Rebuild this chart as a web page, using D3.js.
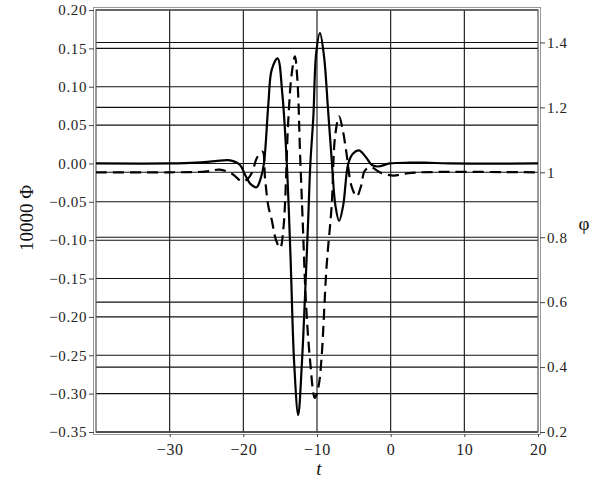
<!DOCTYPE html>
<html lang="en">
<head>
    <meta charset="UTF-8">
    <title>Phi and phi versus t</title>
    <script src="https://d3js.org/d3.v7.min.js"></script>
    <style>
        body { margin: 0; background: #fff; }
        svg text { font-family: "Liberation Serif", "DejaVu Serif", "Times New Roman", serif !important; }
        .grid line { stroke: #111; stroke-width: 1.1; }
        .axis text { font-size: 15px; fill: #222; letter-spacing: 0.6px; }
        .axis path { display: none; }
        .axis line { stroke: #444; }
        .curve { fill: none; stroke: #000; stroke-width: 2.2; }
    </style>
</head>
<body>
    <svg width="608" height="479"></svg>
    <script>
        // solid curve: 10000 Phi (left axis)
        const tSolid = [-40, -30, -26.4, -23.8, -21.8, -20.45, -19.8, -19.0, -18.2, -17.6, -17.2,
            -16.6, -16.15, -15.35, -14.7, -14.1, -13.6, -13.1, -12.55, -12.05, -11.65, -11.2, -10.9,
            -10.5, -10.1, -9.6, -9.05, -8.5, -7.97, -7.5, -7.0, -6.45, -5.75, -5.1, -4.3, -3.35,
            -2.55, -1.7, -0.1, 2.6, 4.65, 8, 20];
        const phiBig = [0, 0, 0.001, 0.003, 0.004, -0.002, -0.014, -0.027, -0.031, -0.018, 0,
            0.078, 0.122, 0.137, 0.09, 0, -0.12, -0.26, -0.328, -0.26, -0.178, -0.074, 0,
            0.06, 0.145, 0.170, 0.14, 0.07, 0, -0.055, -0.075, -0.055, 0, 0.013, 0.017, 0.008,
            -0.002, -0.004, 0, 0.001, 0.001, 0, 0];

        // dashed curve: phi (right axis)
        const tDashed = [-40, -30, -25.2, -23.2, -21.5, -20.2, -19.4, -18.8, -18.15, -17.4, -17.05,
            -16.6, -16.15, -15.55, -15.0, -14.55, -13.9, -13.45, -13.0, -12.65, -12.3, -11.95,
            -11.5, -10.95, -10.3, -9.8, -9.4, -8.7, -8.0, -7.55, -7.0, -6.5, -6.0, -5.3, -4.6,
            -4.05, -3.5, -2.7, -1.2, 0.4, 2.0, 4.0, 20];
        const phiSmall = [1, 1, 1.002, 1.008, 0.995, 0.972, 0.98, 1.0, 1.045, 1.064, 0.98,
            0.895, 0.854, 0.79, 0.767, 0.83, 1.16, 1.30, 1.357, 1.28, 1.059, 0.854,
            0.6, 0.423, 0.305, 0.34, 0.423, 0.71, 0.9, 1.11, 1.172, 1.13, 1.059, 0.956, 0.926,
            0.955, 1.005, 1.015, 0.997, 0.99, 0.996, 1.0, 1.0];

        const xTicks = [-30, -20, -10, 0, 10, 20];
        const leftTicks = [0.20, 0.15, 0.10, 0.05, 0.00, -0.05, -0.10, -0.15, -0.20, -0.25, -0.30, -0.35];
        const rightTicks = [1.4, 1.2, 1.0, 0.8, 0.6, 0.4, 0.2];

        const svg = d3.select("svg");
        const L = 96, R = 538, T = 10, B = 432;

        const x = d3.scaleLinear().domain([-40, 20]).range([L, R]);
        const yL = d3.scaleLinear().domain([-0.35, 0.20]).range([B, T]);
        const yR = d3.scaleLinear().domain([0.2, 1.5]).range([B, T]);

        const minus = s => s.replace("-", "\u2212");

        // grid
        const grid = svg.append("g").attr("class", "grid");
        grid.selectAll(".gx").data(xTicks.filter(d => d < 20)).enter().append("line")
            .attr("x1", d => x(d)).attr("x2", d => x(d))
            .attr("y1", T).attr("y2", B);
        grid.selectAll(".gl").data(leftTicks).enter().append("line")
            .attr("x1", L).attr("x2", R)
            .attr("y1", d => yL(d)).attr("y2", d => yL(d));
        grid.selectAll(".gr").data(rightTicks).enter().append("line")
            .attr("x1", L).attr("x2", R)
            .attr("y1", d => yR(d)).attr("y2", d => yR(d));

        // frame (double line)
        svg.append("rect").attr("x", L - 2.5).attr("y", T - 2.5)
            .attr("width", R - L + 5).attr("height", B - T + 5)
            .attr("fill", "none").attr("stroke", "#999").attr("stroke-width", 1);
        svg.append("rect").attr("x", L).attr("y", T)
            .attr("width", R - L).attr("height", B - T)
            .attr("fill", "none").attr("stroke", "#555").attr("stroke-width", 1.2);

        // axes
        svg.append("g").attr("class", "axis")
            .attr("transform", `translate(${L - 2},0)`)
            .call(d3.axisLeft(yL).tickValues(leftTicks).tickSize(5).tickPadding(2)
                .tickFormat(d => minus(d3.format(".2f")(d))));

        svg.append("g").attr("class", "axis")
            .attr("transform", `translate(${R + 2},0)`)
            .call(d3.axisRight(yR).tickValues(rightTicks).tickSize(5).tickPadding(2)
                .tickFormat(d => d3.format("~g")(d)));

        svg.append("g").attr("class", "axis")
            .attr("transform", `translate(0,${B + 2})`)
            .call(d3.axisBottom(x).tickValues(xTicks).tickSize(3).tickPadding(7)
                .tickFormat(d => minus(d3.format("d")(d))))
            .selectAll("text").style("font-size", "16px");

        // curves
        const solidLine = d3.line()
            .x((d, i) => x(tSolid[i])).y(d => yL(d))
            .curve(d3.curveCatmullRom.alpha(0.5));
        svg.append("path").attr("class", "curve")
            .attr("d", solidLine(phiBig));

        const dashedLine = d3.line()
            .x((d, i) => x(tDashed[i])).y(d => yR(d))
            .curve(d3.curveCatmullRom.alpha(0.5));
        svg.append("path").attr("class", "curve")
            .attr("stroke-dasharray", "11,6")
            .attr("d", dashedLine(phiSmall));

        // axis titles
        svg.append("text")
            .attr("transform", "translate(33,218) rotate(-90)")
            .attr("text-anchor", "middle")
            .style("font-size", "19px").attr("fill", "#111")
            .text("10000 \u03A6");

        svg.append("text")
            .attr("x", 584).attr("y", 230)
            .attr("text-anchor", "middle")
            .style("font-size", "19px").attr("fill", "#111")
            .text("\u03C6");

        svg.append("text")
            .attr("x", 319).attr("y", 475)
            .attr("text-anchor", "middle")
            .style("font-size", "19px").style("font-style", "italic").attr("fill", "#111")
            .text("t");
    </script>
</body>
</html>
